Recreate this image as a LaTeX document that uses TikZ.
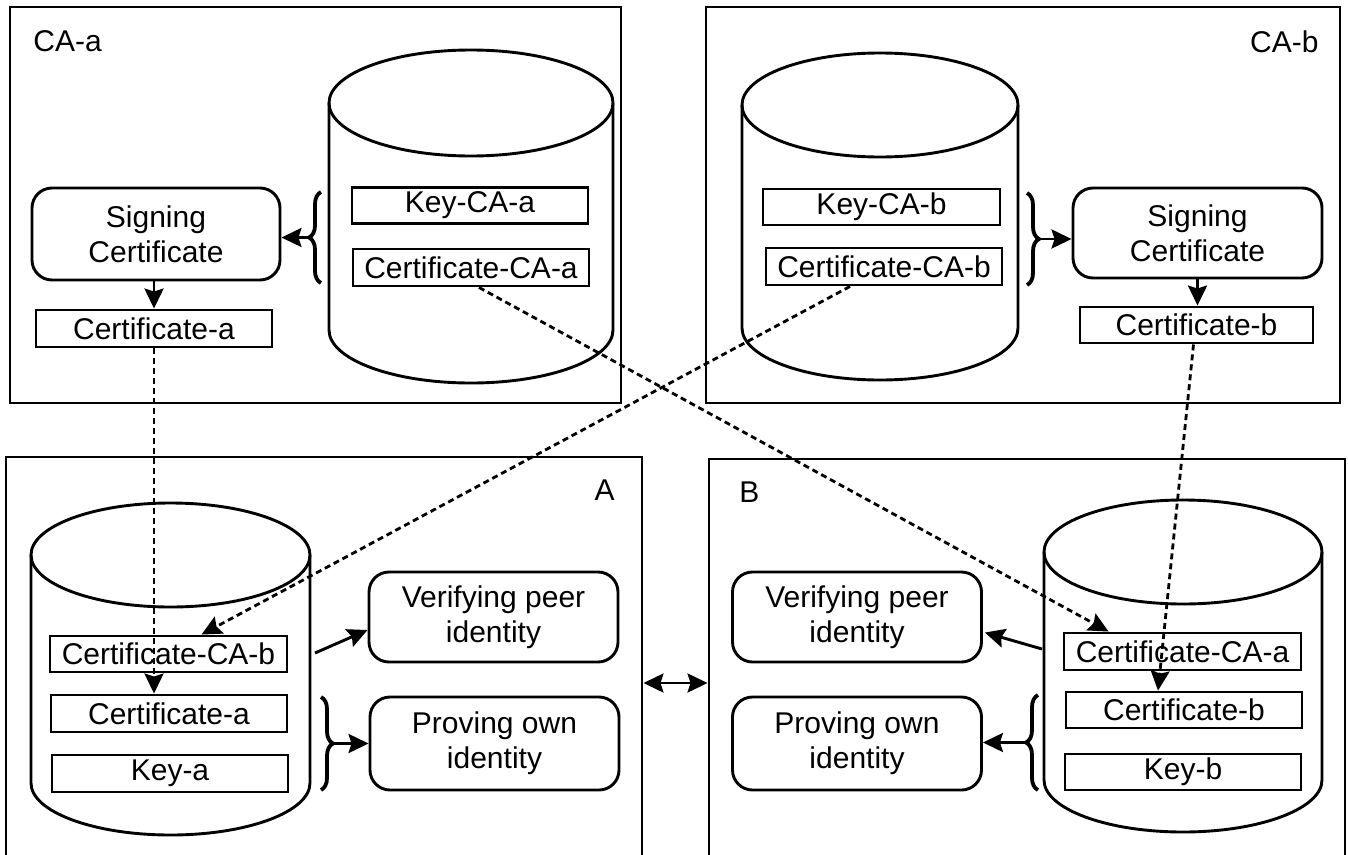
\documentclass[tikz,border=0pt]{standalone}
\usepackage{fontspec}
\setmainfont{Liberation Sans}
\usetikzlibrary{arrows.meta,decorations.pathreplacing,calc}
\newcommand\mycyl[5]{%
  \draw (#1-#2,#3) -- (#1-#2,#5) arc[start angle=180,end angle=360,x radius=#2pt,y radius=#4pt] -- (#1+#2,#3);
  \draw (#1,#3) ellipse[x radius=#2pt,y radius=#4pt];}
\begin{document}
\begin{tikzpicture}[x=1pt,y=-1pt,line width=2.9pt,
  txt/.style={font=\fontsize{30}{35}\selectfont},
  box/.style={draw,rectangle,inner sep=0pt,txt,minimum width=236pt,minimum height=36pt},
  rbox/.style={draw,rectangle,rounded corners=20pt,align=center,inner sep=0pt,txt,minimum width=249pt,minimum height=91pt},
  frame/.style={draw,rectangle,inner sep=0pt},
  lbl/.style={txt,inner sep=0pt},
  tip/.tip={Stealth[length=20pt,width=19pt,inset=3pt]},
  arr/.style={-tip},
  darr/.style={arr,dash pattern=on 6pt off 4pt,line width=2.8pt},
  br/.style={decorate,decoration={brace,amplitude=12pt},line width=3.8pt}]
\useasboundingbox (0,0) rectangle (1348,854);
\clip (0,0) rectangle (1348,854);

% frames
\node[frame,minimum width=611pt,minimum height=396pt] (frCAa) at (315.5,205) {};
\node[frame,minimum width=634pt,minimum height=396pt] (frCAb) at (1023,205) {};
\node[frame,minimum width=636pt,minimum height=453pt] (frA) at (324,683.5) {};
\node[frame,minimum width=636pt,minimum height=451pt] (frB) at (1027,684.5) {};

% labels
\node[lbl,anchor=north west] (lCAa) at (32,29) {CA-a};
\node[lbl,anchor=north east] (lCAb) at (1320,29) {CA-b};
\node[lbl,anchor=north east] (lA) at (616,478) {A};
\node[lbl,anchor=north west] (lB) at (738,480) {B};

% cylinders
\mycyl{471}{142}{103}{53}{330}
\mycyl{880}{138}{105}{52}{328}
\mycyl{170.5}{139.5}{555}{52}{783}
\mycyl{1183}{139}{552}{52}{780}

% CA-a
\node[box] (kCAa) at (470,205.5) {Key-CA-a};
\node[box,minimum height=37pt] (cCAa) at (471,267.5) {Certificate-CA-a};
\node[rbox,minimum width=248pt,minimum height=92pt] (sigA) at (156,234) {Signing\\Certificate};
\node[box,minimum height=37pt] (certa1) at (154,328.5) {Certificate-a};

% CA-b
\node[box,minimum width=237pt] (kCAb) at (881.5,207) {Key-CA-b};
\node[box,minimum height=37pt] (cCAb) at (884,266.5) {Certificate-CA-b};
\node[rbox,minimum height=90pt] (sigB) at (1197.5,233) {Signing\\Certificate};
\node[box,minimum width=233pt] (certb1) at (1196.5,325) {Certificate-b};

% A
\node[box,minimum width=237pt] (cCAbA) at (168.5,654) {Certificate-CA-b};
\node[box,minimum height=37pt] (certa2) at (169,713.5) {Certificate-a};
\node[box,minimum height=37pt] (keya) at (170,773.5) {Key-a};
\node[rbox,minimum height=90pt] (verA) at (493.5,617) {Verifying peer\\identity};
\node[rbox,minimum height=93pt] (proA) at (494.5,743.5) {Proving own\\identity};

% B
\node[box,minimum width=237pt,minimum height=37pt] (cCAaB) at (1182.5,651.5) {Certificate-CA-a};
\node[box] (certb2) at (1184,710) {Certificate-b};
\node[box] (keyb) at (1183,772) {Key-b};
\node[rbox,minimum height=90pt] (verB) at (857,617) {Verifying peer\\identity};
\node[rbox,minimum height=93pt] (proB) at (857,743.5) {Proving own\\identity};

% braces
\draw[br] (321,283) -- (321,192);
\coordinate (bCAa) at (308,237.5);
\draw[br] (1027,193) -- (1027,285);
\coordinate (bCAb) at (1040,239);
\draw[br] (321,697) -- (321,790);
\coordinate (bA) at (334,743.5);
\draw[br] (1038,790) -- (1038,695);
\coordinate (bB) at (1025,742.5);

% solid arrows
\draw[arr] (bCAa) -- (sigA.east |- bCAa);
\draw[arr] (bCAb) -- (sigB.west |- bCAb);
\draw[arr] (certa1.north |- sigA.south) -- (certa1.north);
\draw[arr] (sigB.south) -- (sigB.south |- certb1.north);
\draw[arr] (bA) -- (proA.west |- bA);
\draw[arr] (bB) -- (proB.east |- bB);
\coordinate (vA) at (315,653);
\draw[arr] (vA) -- ([yshift=-13pt]verA.west);
\coordinate (vB) at (1042,649);
\draw[arr,shorten >=2pt] (vB) -- ([yshift=-15pt]verB.east);
\draw[tip-tip] (frA.east |- 0,683) -- (frB.west |- 0,683);

% dashed arrows
\draw[darr] (certa1.south) -- (certa1.south |- certa2.north);
\draw[darr] ([xshift=8pt]cCAa.south) -- ([xshift=46pt]cCAaB.north west);
\draw[darr] ([xshift=-34pt]cCAb.south) -- ([xshift=33pt]cCAbA.north);
\draw[darr] ([xshift=-3pt]certb1.south) -- ([xshift=-26pt]certb2.north);
\end{tikzpicture}
\end{document}
